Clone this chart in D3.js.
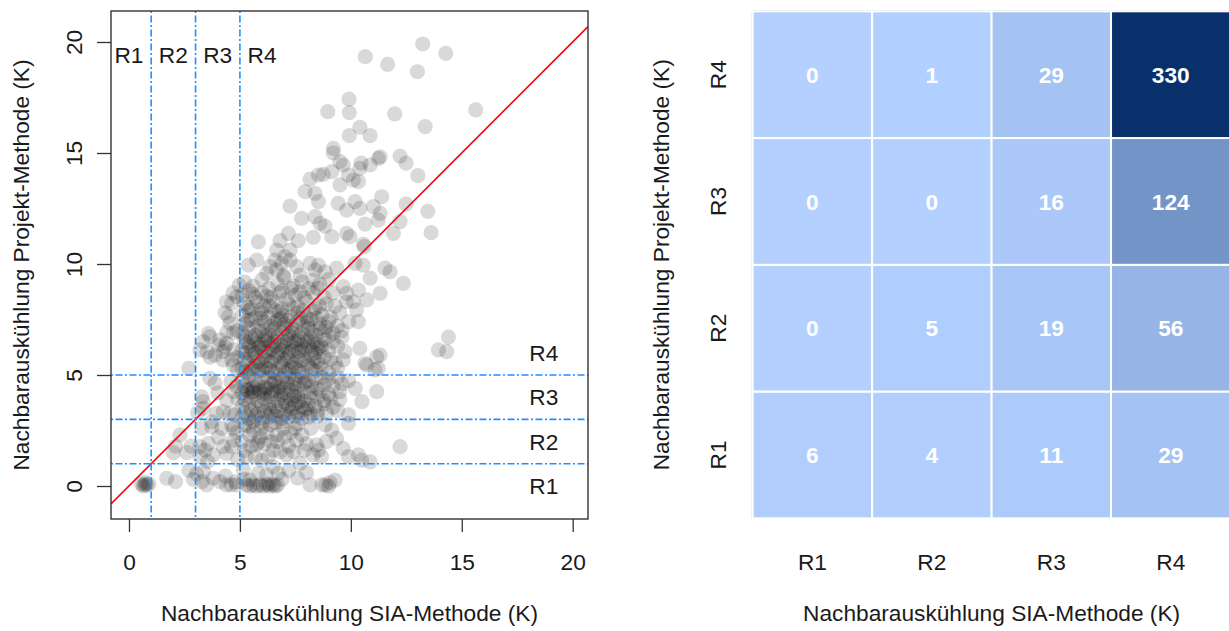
<!DOCTYPE html>
<html><head><meta charset="utf-8">
<script src="https://cdn.jsdelivr.net/npm/d3@7"></script>
<style>body{margin:0;background:#fff;} svg{display:block;font-family:"Liberation Sans",Arial,sans-serif;}</style>
</head><body>
<svg id="c" width="1229" height="631"></svg>
<script>
// ---------- data ----------
const regionLabels = ["R1","R2","R3","R4"];
const regionBreaks = [1,3,5];
const xTicks = [0,5,10,15,20];
const yTicks = [0,5,10,15,20];
const xTitle = "Nachbarauskühlung SIA-Methode (K)";
const yTitle = "Nachbarauskühlung Projekt-Methode (K)";

// heatmap counts: one array per Projekt-row, values by SIA column R1..R4
const countsR1 = [6,4,11,29];
const countsR2 = [0,5,19,56];
const countsR3 = [0,0,16,124];
const countsR4 = [0,1,29,330];

// scatter points [SIA, Projekt], grouped by SIA region / Projekt region
const ptsS1P1 = [[0.55,0.1],[0.65,0.0],[0.75,0.15],[0.8,0.05],[0.9,0.1],[0.7,0.05]];
const ptsS2P1 = [[1.7,0.35],[2.1,0.2],[2.7,0.7],[2.9,0.3]];
const ptsS2P2 = [[2.3,2.3],[2.1,1.8],[2.0,1.5],[2.6,1.5],[2.8,1.8]];
const ptsS2P4 = [[2.7,5.3]];
const ptsS3P1 = [[3.05,0.55],[3.35,0.65],[3.5,0.05],[3.8,0.35],[4.1,0.2],[4.35,0.45],[4.4,0.05],[4.6,0.05],[4.8,0.2],[4.85,0.05],[3.3,0.2]];
const ptsS3P2 = [[3.2,1.77],[3.58,1.92],[3.43,1.62],[4.25,1.77],[4.4,1.47],[3.8,1.4],[4.7,2.07],[4.63,1.77],[3.73,2.67],[4.18,2.6],[4.7,2.6],[3.28,2.6],[3.2,1.32],[3.73,2.9],[4.63,2.75],[4.03,2.2],[4.9,1.2],[3.55,1.1],[4.85,2.4]];
const ptsS3P3 = [[3.65,4.85],[3.88,4.63],[3.28,4.02],[3.35,3.5],[3.95,3.27],[4.4,3.87],[4.55,3.27],[4.78,3.2],[4.7,4.25],[3.35,3.8],[4.25,3.35],[4.0,4.2],[4.6,4.7],[4.85,4.5],[3.1,3.3],[4.9,3.9]];
const ptsS3P4 = [[3.35,6.5],[3.65,6.73],[4.03,6.35],[4.33,6.27],[4.25,6.05],[4.7,6.13],[4.48,7.63],[4.63,8.23],[4.86,8.53],[4.7,8.7],[4.33,7.8],[4.55,7.34],[4.7,6.9],[4.87,7.0],[4.42,6.94],[3.2,6.13],[3.52,6.04],[3.88,5.9],[4.1,6.58],[3.65,5.8],[4.25,5.68],[4.64,5.68],[4.9,5.8],[4.97,9.05],[4.4,8.3],[3.58,6.88],[4.4,6.43],[4.7,5.45],[4.9,5.2]];
const ptsS4P1 = [[5.3,0.05],[5.45,0.0],[5.6,0.05],[5.75,0.0],[5.9,0.05],[6.05,0.0],[6.2,0.05],[6.35,0.0],[6.5,0.05],[6.6,0.0],[6.7,0.05],[6.28,0.1],
  [5.45,0.27],[5.83,0.57],[6.2,0.5],[6.73,0.57],[6.5,0.87],[5.15,0.75],[7.2,0.7],
  [8.16,0.05],[8.7,0.05],[8.85,0.05],[9.06,0.15],[9.29,0.27],[9.0,0.0],
  [7.6,0.35],[6.9,0.3],[8.0,0.6],[5.2,0.3]];
const ptsS4P2 = [[5.76,1.85],[5.8,1.95],[5.45,2.3],[5.98,2.6],[6.36,2.75],[6.66,2.3],[6.81,1.55],[6.28,1.32],[5.98,1.17],[5.3,1.32],[5.23,2.75],[5.6,2.9],[6.96,2.6],[7.48,2.6],[7.56,2.07],[7.41,1.55],[7.1,1.4],[8.46,1.85],[8.54,1.62],[8.68,1.32],[9.14,2.52],[9.36,2.15],[9.66,1.7],[9.89,1.32],[10.34,1.4],[10.87,1.09],[7.71,1.02],[8.84,2.75],[9.89,2.82],[12.22,1.77],[10.49,1.17],
  [5.1,2.0],[5.2,1.6],[5.5,1.8],[5.6,2.5],[5.9,2.2],[6.1,1.9],[6.2,2.4],[6.4,2.0],[6.5,1.6],[6.7,2.0],[6.9,2.9],[7.0,2.2],[7.2,1.8],[7.3,2.4],[7.6,2.8],[7.8,2.3],[8.0,1.9],[8.2,2.6],[8.3,1.4],[5.4,2.7],[6.0,2.85],[6.6,2.85],[5.7,1.3],[7.9,1.6],[8.9,2.0]];
const ptsS4P3 = [[5.1,4.8],[5.4,4.9],[5.7,4.75],[6.0,4.85],[6.3,4.9],[6.6,4.75],[6.9,4.85],[7.2,4.9],[7.5,4.8],[7.8,4.9],[8.1,4.75],[8.4,4.85],[8.7,4.9],[9.0,4.8],[9.4,4.9],[9.9,4.75],
  [5.2,4.5],[5.5,4.4],[5.8,4.55],[6.1,4.45],[6.4,4.6],[6.7,4.5],[7.0,4.4],[7.3,4.55],[7.6,4.45],[7.9,4.6],[8.2,4.5],[8.5,4.4],[8.8,4.55],[9.2,4.5],[9.6,4.6],
  [5.1,4.2],[5.35,4.3],[5.6,4.25],[5.85,4.2],[6.1,4.3],[6.4,4.15],[6.7,4.25],[7.0,4.2],[7.3,4.3],[7.6,4.15],[7.9,4.25],[8.2,4.2],[8.6,4.3],[9.0,4.15],[9.5,4.25],[11.17,4.25],
  [5.2,3.9],[5.5,4.0],[5.8,3.85],[6.1,3.95],[6.4,4.0],[6.7,3.85],[7.0,3.95],[7.3,3.9],[7.6,4.0],[7.9,3.85],[8.2,3.95],[8.5,4.0],[8.8,3.85],[9.1,3.95],[9.5,3.9],
  [5.1,3.6],[5.4,3.7],[5.7,3.55],[6.0,3.65],[6.3,3.7],[6.6,3.55],[6.9,3.65],[7.2,3.6],[7.5,3.7],[7.8,3.55],[8.1,3.65],[8.4,3.6],[8.8,3.7],[9.2,3.55],
  [5.2,3.3],[5.5,3.4],[5.8,3.25],[6.1,3.35],[6.4,3.3],[6.7,3.4],[7.0,3.25],[7.3,3.35],[7.6,3.3],[7.9,3.4],[8.2,3.25],[8.5,3.35],[8.9,3.3],[9.4,3.4],
  [5.1,3.1],[5.4,3.05],[5.7,3.15],[6.0,3.05],[6.3,3.1],[6.6,3.15],[6.9,3.05],[7.2,3.1],[7.5,3.15],[7.8,3.05],[8.1,3.1],[8.5,3.15],
  [5.3,4.35],[5.6,4.45],[5.9,4.3],[6.2,4.4],[6.5,4.3],[6.8,4.45],[5.5,4.2],[6.1,4.15],
  [6.55,4.7],[7.15,4.65],[7.45,4.6],[7.95,4.7],[6.85,4.1],[7.45,4.05],[7.05,3.75],[7.65,3.8],[6.35,3.45],[7.35,3.5],[8.0,3.5],[10.2,4.4],[10.5,3.8],[9.9,3.2]];
const ptsS4P4 = [[10.65,19.34],[11.66,18.99],[13.24,19.91],[14.28,19.49],[13.0,18.66],[9.92,17.43],[8.96,16.86],[9.93,16.82],[11.98,16.76],[15.63,16.94],[13.35,16.19],[10.41,16.16],[9.93,15.78],[10.87,15.78],[9.21,15.21],[9.21,15.0],[9.51,14.61],[12.22,14.86],[12.49,14.54],[11.24,14.76],[11.32,14.83],[10.87,14.46],[10.46,14.54],[9.66,14.46],[9.14,14.16],[8.76,14.04],[9.89,14.01],[13.02,13.98],[10.41,14.31],[8.54,14.01],[8.16,13.82],[10.11,13.78],[10.34,13.71],[9.51,13.56],[7.94,13.26],[8.39,13.18],[8.54,12.81],[7.26,12.61],[9.43,12.73],[9.81,12.43],[10.19,12.81],[10.41,12.51],[11.02,12.58],[11.39,13.03],[11.32,12.28],[11.24,11.98],[12.49,12.7],[13.47,12.37],[7.78,12.06],[8.39,12.13],[8.61,11.83],[8.84,11.71],[10.64,11.8],[11.92,11.38],[9.81,11.38],[9.96,11.23],[9.14,11.23],[8.31,11.2],[10.56,10.9],[5.83,11.0],[7.18,11.38],[6.81,11.05],[7.63,11.05],[12.22,11.91],[13.62,11.41],[10.61,10.78],
  [6.66,10.63],[7.26,10.63],[7.03,10.33],[6.58,10.18],[6.88,10.03],[7.26,10.18],[7.56,9.88],[6.36,9.88],[6.66,9.73],[5.38,9.95],[5.76,10.18],[6.21,9.58],[6.96,9.5],[7.71,9.5],[8.16,10.03],[8.54,9.95],[8.39,9.73],[8.84,9.65],[9.36,9.81],[10.19,10.03],[10.56,9.95],[11.54,9.81],[11.77,9.65],[10.87,9.36],
  [9.66,8.98],[9.81,8.68],[10.34,8.83],[10.11,8.3],[10.72,8.38],[10.26,7.93],[10.34,7.4],[11.32,8.68],[12.37,9.13],[8.31,9.28],
  [5.2,9.2],[5.6,9.0],[6.0,9.3],[6.3,8.9],[6.7,9.1],[7.0,9.4],[7.4,9.0],[7.8,9.2],[8.1,8.9],[8.6,9.1],[9.0,9.3],
  [5.1,8.6],[5.4,8.8],[5.7,8.5],[6.0,8.7],[6.4,8.5],[6.8,8.7],[7.1,8.4],[7.5,8.6],[7.9,8.5],[8.3,8.7],[8.8,8.5],[9.2,8.7],
  [5.2,8.2],[5.5,8.0],[5.8,8.3],[6.1,8.1],[6.5,8.3],[6.9,8.0],[7.2,8.2],[7.6,8.1],[8.0,8.3],[8.4,8.0],[8.9,8.2],[9.3,8.1],[9.8,8.3],
  [5.1,7.7],[5.4,7.9],[5.7,7.6],[6.0,7.8],[6.3,7.6],[6.6,7.9],[6.9,7.7],[7.3,7.6],[7.6,7.8],[8.0,7.6],[8.3,7.9],[8.7,7.7],[9.1,7.6],[9.5,7.8],
  [5.2,7.3],[5.5,7.5],[5.8,7.2],[6.1,7.4],[6.4,7.2],[6.7,7.5],[7.0,7.3],[7.3,7.2],[7.6,7.4],[7.9,7.2],[8.2,7.5],[8.6,7.3],[9.0,7.4],[9.4,7.2],[9.9,7.4],
  [5.1,6.9],[5.4,7.1],[5.7,6.8],[6.0,7.0],[6.3,6.8],[6.6,7.1],[6.9,6.9],[7.2,6.8],[7.5,7.0],[7.8,6.9],[8.1,7.1],[8.4,6.8],[8.8,7.0],[9.2,6.9],[9.6,7.0],
  [5.2,6.5],[5.5,6.7],[5.8,6.4],[6.1,6.6],[6.4,6.4],[6.7,6.7],[7.0,6.5],[7.3,6.4],[7.6,6.6],[7.9,6.5],[8.2,6.7],[8.5,6.4],[8.8,6.6],[9.2,6.5],[9.6,6.7],
  [5.1,6.1],[5.4,6.3],[5.7,6.0],[6.0,6.2],[6.3,6.0],[6.6,6.3],[6.9,6.1],[7.2,6.0],[7.5,6.2],[7.8,6.1],[8.1,6.3],[8.4,6.0],[8.7,6.2],[9.0,6.1],[9.4,6.3],[9.74,6.05],[10.41,6.2],
  [5.2,5.7],[5.5,5.9],[5.8,5.6],[6.1,5.8],[6.4,5.6],[6.7,5.9],[7.0,5.7],[7.3,5.6],[7.6,5.8],[7.9,5.7],[8.2,5.9],[8.5,5.6],[8.8,5.8],[9.1,5.7],[9.66,5.68],[10.64,5.53],[11.17,5.82],[11.32,5.9],
  [5.1,5.3],[5.4,5.1],[5.7,5.4],[6.0,5.2],[6.3,5.3],[6.6,5.1],[6.9,5.4],[7.2,5.2],[7.5,5.3],[7.8,5.1],[8.1,5.4],[8.4,5.2],[8.7,5.3],[9.0,5.1],[9.4,5.3],[10.72,5.45],[11.09,5.23],[11.24,5.3],
  [5.55,8.65],[6.2,8.55],[6.9,8.8],[7.3,8.9],[7.7,8.75],[8.5,8.9],
  [5.35,8.05],[5.95,7.95],[6.35,8.1],[6.75,7.85],[7.4,8.0],[7.85,7.9],[8.6,8.1],
  [5.35,7.45],[5.95,7.55],[6.55,7.35],[6.85,7.55],[7.15,7.45],[7.75,7.55],[8.05,7.35],[8.45,7.55],[8.9,7.15],
  [5.25,6.75],[5.85,6.95],[6.15,6.75],[6.45,7.0],[7.05,7.1],[7.35,6.9],[7.65,6.75],[8.25,6.95],[8.6,7.1],[9.0,6.75],
  [5.35,6.45],[5.65,6.55],[5.95,6.35],[6.25,6.55],[6.55,6.5],[6.85,6.35],[7.15,6.6],[7.45,6.5],[7.75,6.35],[8.05,6.55],[8.35,6.5],[8.65,6.3],
  [5.25,6.0],[5.55,6.15],[5.85,6.25],[6.15,6.05],[6.45,6.15],[6.75,6.0],[7.05,6.25],[7.35,6.1],[7.65,6.05],[7.95,6.2],[8.25,6.1],[8.55,6.2],
  [5.35,5.55],[5.65,5.75],[5.95,5.5],[6.25,5.65],[6.55,5.75],[6.85,5.55],[7.15,5.8],[7.45,5.5],[7.75,5.65],[8.05,5.5],[8.35,5.75],[8.65,5.5],[9.3,5.55],
  [5.25,5.15],[5.55,5.3],[5.85,5.2],[6.15,5.35],[6.45,5.15],[6.75,5.3],[7.05,5.1],[7.35,5.35],[7.65,5.15],[8.25,5.3],
  [14.4,6.71],[13.95,6.13],[14.32,6.05]];

// ---------- drawing ----------
const svg = d3.select("#c");
const FS = 22.7;
const ink = "#1a1a1a";

// ===== left: scatter =====
const L = {l:111, r:588, t:11, b:519};
const x = d3.scaleLinear().domain([-0.81, 20.69]).range([L.l, L.r]);
const y = d3.scaleLinear().domain([-1.486, 21.396]).range([L.b, L.t]);

svg.append("clipPath").attr("id","clipL").append("rect")
  .attr("x",L.l).attr("y",L.t).attr("width",L.r-L.l).attr("height",L.b-L.t);

const allPts = [].concat(ptsS1P1, ptsS2P1, ptsS2P2, ptsS2P4, ptsS3P1, ptsS3P2, ptsS3P3, ptsS3P4,
                          ptsS4P1, ptsS4P2, ptsS4P3, ptsS4P4);
const gL = svg.append("g").attr("clip-path","url(#clipL)");
gL.selectAll("circle.pt").data(allPts).join("circle").attr("class","pt")
  .attr("cx", d => x(d[0])).attr("cy", d => y(d[1])).attr("r", 7.6)
  .attr("fill", "rgba(0,0,0,0.15)");

// identity line
const dom = x.domain();
gL.append("line").attr("x1", x(dom[0])).attr("y1", y(dom[0])).attr("x2", x(dom[1])).attr("y2", y(dom[1]))
  .attr("stroke","#ff0000").attr("stroke-width",1.6);

// region lines
const dash = "2,2.5,7,2.5";
gL.selectAll("line.v").data(regionBreaks).join("line").attr("class","v")
  .attr("x1", d=>x(d)).attr("x2", d=>x(d)).attr("y1", L.t).attr("y2", L.b)
  .attr("stroke","#1E90FF").attr("stroke-width",1.6).attr("stroke-dasharray",dash);
gL.selectAll("line.h").data(regionBreaks).join("line").attr("class","h")
  .attr("y1", d=>y(d)).attr("y2", d=>y(d)).attr("x1", L.l).attr("x2", L.r)
  .attr("stroke","#1E90FF").attr("stroke-width",1.6).attr("stroke-dasharray",dash);

// region labels
const topLabX = [0,2,4,6];
const rightLabY = [0,2,4,6];
svg.selectAll("text.tl").data(regionLabels).join("text").attr("class","tl")
  .attr("x",(d,i)=>x(topLabX[i])).attr("y", y(19.4)).attr("dy","0.36em")
  .attr("text-anchor","middle").attr("font-size",FS).attr("fill",ink).text(d=>d);
svg.selectAll("text.rl").data(regionLabels).join("text").attr("class","rl")
  .attr("x", x(18.7)).attr("y",(d,i)=>y(rightLabY[i])).attr("dy","0.36em")
  .attr("text-anchor","middle").attr("font-size",FS).attr("fill",ink).text(d=>d);

// box
svg.append("rect").attr("x",L.l).attr("y",L.t).attr("width",L.r-L.l).attr("height",L.b-L.t)
  .attr("fill","none").attr("stroke","#333").attr("stroke-width",1.4);

// x axis
const gx = svg.append("g").attr("transform",`translate(0,${L.b})`)
  .call(d3.axisBottom(x).tickValues(xTicks).tickSize(13).tickSizeOuter(0).tickFormat(d3.format("d")));
gx.select(".domain").remove();
gx.selectAll(".tick line").attr("stroke","#333").attr("stroke-width",1.3);
gx.selectAll(".tick text").attr("y",50.5).attr("dy",null).attr("font-size",FS).attr("fill",ink)
  .attr("font-family","Liberation Sans, Arial, sans-serif");

// y axis
const gy = svg.append("g").attr("transform",`translate(${L.l},0)`)
  .call(d3.axisLeft(y).tickValues(yTicks).tickSize(14).tickSizeOuter(0).tickFormat(d3.format("d")));
gy.select(".domain").remove();
gy.selectAll(".tick line").attr("stroke","#333").attr("stroke-width",1.3);
gy.selectAll(".tick text").attr("x",null).attr("dy",null)
  .attr("transform","translate(-29,0) rotate(-90)").attr("text-anchor","middle")
  .attr("font-size",FS).attr("fill",ink).attr("font-family","Liberation Sans, Arial, sans-serif");

// titles
svg.append("text").attr("x",(L.l+L.r)/2).attr("y",621).attr("text-anchor","middle")
  .attr("font-size",FS).attr("fill",ink).text(xTitle);
svg.append("text").attr("transform",`translate(29,${(L.t+L.b)/2}) rotate(-90)`).attr("text-anchor","middle")
  .attr("font-size",FS).attr("fill",ink).text(yTitle);

// ===== right: heatmap =====
const H = {l:752.7, r:1230.5, t:11.3, b:518.3};
const rowsData = [["R1",countsR1],["R2",countsR2],["R3",countsR3],["R4",countsR4]];
const cells = [];
rowsData.forEach(([rl, arr]) => arr.forEach((v,j) => cells.push({row:rl, col:regionLabels[j], v})));
const hx = d3.scaleBand().domain(regionLabels).range([H.l, H.r]);
const hy = d3.scaleBand().domain(regionLabels.slice().reverse()).range([H.t, H.b]);
const vmax = d3.max(cells, d=>d.v);
const col = d3.scaleLinear().domain([0, vmax]).range(["#b3d0ff","#08306b"]).interpolate(d3.interpolateRgb);

svg.append("line").attr("x1",H.l-0.5).attr("x2",H.l-0.5).attr("y1",H.t).attr("y2",H.b).attr("stroke","#bdbdbd").attr("stroke-width",1);
svg.append("line").attr("x1",H.l).attr("x2",H.r).attr("y1",H.t-0.5).attr("y2",H.t-0.5).attr("stroke","#bdbdbd").attr("stroke-width",1);

svg.selectAll("rect.cell").data(cells).join("rect").attr("class","cell")
  .attr("x",d=>hx(d.col)).attr("y",d=>hy(d.row)).attr("width",hx.bandwidth()).attr("height",hy.bandwidth())
  .attr("fill",d=>col(d.v)).attr("stroke","#fff").attr("stroke-width",2);
svg.selectAll("text.val").data(cells).join("text").attr("class","val")
  .attr("x",d=>hx(d.col)+hx.bandwidth()/2).attr("y",d=>hy(d.row)+hy.bandwidth()/2).attr("dy","0.36em")
  .attr("text-anchor","middle").attr("font-size",FS).attr("font-weight","bold").attr("fill","#fff").text(d=>d.v);

// heatmap axes labels
svg.selectAll("text.hxl").data(regionLabels).join("text").attr("class","hxl")
  .attr("x",d=>hx(d)+hx.bandwidth()/2).attr("y",570).attr("text-anchor","middle")
  .attr("font-size",FS).attr("fill",ink).text(d=>d);
svg.selectAll("text.hyl").data(regionLabels).join("text").attr("class","hyl")
  .attr("transform",d=>`translate(725.5,${hy(d)+hy.bandwidth()/2}) rotate(-90)`).attr("text-anchor","middle")
  .attr("font-size",FS).attr("fill",ink).text(d=>d);
svg.append("text").attr("x",(H.l+H.r)/2).attr("y",621).attr("text-anchor","middle")
  .attr("font-size",FS).attr("fill",ink).text(xTitle);
svg.append("text").attr("transform",`translate(669,${(H.t+H.b)/2}) rotate(-90)`).attr("text-anchor","middle")
  .attr("font-size",FS).attr("fill",ink).text(yTitle);
</script>
</body></html>
